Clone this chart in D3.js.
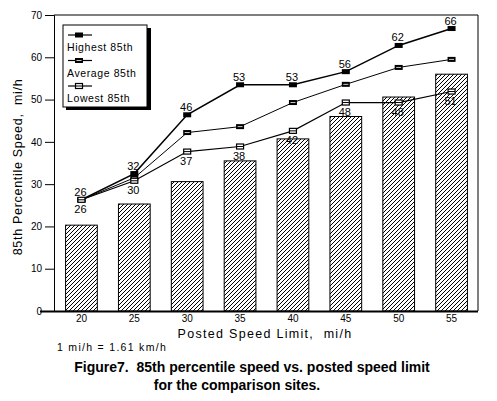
<!DOCTYPE html>
<html><head><meta charset="utf-8">
<script src="https://cdn.jsdelivr.net/npm/d3@7"></script>
<style>
body{margin:0;background:#fff;}
svg{display:block;}
text{font-family:"Liberation Sans",Arial,sans-serif;fill:#000;}
</style></head>
<body><svg id="c" width="497" height="401"></svg>
<script>
const categories = ["20","25","30","35","40","45","50","55"];
const posted = [20.3, 25.3, 30.6, 35.5, 40.7, 46, 50.6, 56];
const highest = [26.3, 32.5, 46.4, 53.5, 53.5, 56.6, 62.8, 66.8];
const average = [26.3, 31.5, 42.2, 43.6, 49.3, 53.6, 57.6, 59.5];
const lowest = [26.3, 30.8, 37.7, 38.9, 42.6, 49.3, 49.3, 51.9];
const highestLabels = ["26","32","46","53","53","56","62","66"];
const lowestLabels = ["26","30","37","38","42","48","48","51"];
const yTicks = [0,10,20,30,40,50,60,70];
const seriesNames = ["Highest 85th","Average 85th","Lowest 85th"];

const svg = d3.select("#c");
const x = d3.scaleBand().domain(categories).range([55,478]).paddingInner(0.4).paddingOuter(0.2);
const y = d3.scaleLinear().domain([0,70]).range([311,15]);
const cx = c => x(c) + x.bandwidth()/2;

// hatch pattern
const defs = svg.append("defs");
const pat = defs.append("pattern").attr("id","hatch").attr("patternUnits","userSpaceOnUse")
  .attr("width",4).attr("height",4);
pat.append("rect").attr("width",4).attr("height",4).attr("fill","#fff");
pat.append("path").attr("d","M-1,1 l2,-2 M0,4 l4,-4 M3,5 l2,-2").attr("stroke","#000").attr("stroke-width",1);

// frame
svg.append("line").attr("x1",54).attr("x2",478).attr("y1",y(70)).attr("y2",y(70)).attr("stroke","#000").attr("stroke-width",1.2);
svg.append("line").attr("x1",478).attr("x2",478).attr("y1",y(70)).attr("y2",y(0)).attr("stroke","#000").attr("stroke-width",1);

// bars
svg.append("g").selectAll("rect").data(categories).join("rect")
  .attr("x",d=>x(d)).attr("width",x.bandwidth())
  .attr("y",(d,i)=>y(posted[i])).attr("height",(d,i)=>y(0)-y(posted[i]))
  .attr("fill","url(#hatch)").attr("stroke","#000").attr("stroke-width",1);

// y axis
const ya = d3.axisLeft(y).tickValues(yTicks).tickSize(9).tickPadding(3);
const gy = svg.append("g").attr("transform","translate(54,0)").call(ya);
gy.select(".domain").attr("stroke","#000");
gy.selectAll("text").attr("font-size",10).attr("font-family","Liberation Sans, Arial, sans-serif");
// x axis
const xa = d3.axisBottom(x).tickSize(0).tickPadding(4);
const gx = svg.append("g").attr("transform","translate(0,311)").call(xa);
gx.select(".domain").attr("d","M40,0.5H478").attr("stroke","#000").attr("stroke-width",1.8);
gx.selectAll("text").attr("font-size",10).attr("font-family","Liberation Sans, Arial, sans-serif");

// lines
const line = vals => d3.line().x((d,i)=>cx(categories[i])).y(d=>y(d))(vals);
const seriesData = [highest, average, lowest];
const widths = [1.5,1,1.2];
seriesData.forEach((vals,k)=>{
  svg.append("path").attr("d",line(vals)).attr("fill","none").attr("stroke","#000").attr("stroke-width",widths[k]);
});
function marker(g, px, py, k){
  if(k===0){
    g.append("rect").attr("x",px-4).attr("y",py-2.5).attr("width",8).attr("height",5).attr("fill","#000");
  } else if(k===1){
    g.append("rect").attr("x",px-4).attr("y",py-2.5).attr("width",8).attr("height",5).attr("fill","#000");
    g.append("line").attr("x1",px-2.5).attr("x2",px+2.5).attr("y1",py).attr("y2",py).attr("stroke","#fff").attr("stroke-width",0.8);
  } else {
    g.append("rect").attr("x",px-3.5).attr("y",py-2.5).attr("width",7).attr("height",5).attr("fill","#fff").attr("stroke","#000").attr("stroke-width",1.2);
    g.append("line").attr("x1",px-3.5).attr("x2",px+3.5).attr("y1",py).attr("y2",py).attr("stroke","#000").attr("stroke-width",1);
  }
}
const mg = svg.append("g");
seriesData.forEach((vals,k)=>{
  vals.forEach((v,i)=>marker(mg, cx(categories[i]), y(v), k));
});

// data labels
svg.append("g").selectAll("text").data(highestLabels).join("text")
  .attr("x",(d,i)=>cx(categories[i])-1).attr("y",(d,i)=>y(highest[i])-4)
  .attr("text-anchor","middle").attr("font-size",11).text(d=>d);
svg.append("g").selectAll("text").data(lowestLabels).join("text")
  .attr("x",(d,i)=>cx(categories[i])-1).attr("y",(d,i)=>y(lowest[i])+13)
  .attr("text-anchor","middle").attr("font-size",11).text(d=>d);

// legend
const lg = svg.append("g");
lg.append("rect").attr("x",66).attr("y",28).attr("width",85).attr("height",82).attr("fill","#000");
lg.append("rect").attr("x",63).attr("y",25).attr("width",84).attr("height",82).attr("fill","#fff").attr("stroke","#000").attr("stroke-width",1);
seriesNames.forEach((n,k)=>{
  const ly = 35 + k*25.5;
  lg.append("line").attr("x1",68).attr("x2",92).attr("y1",ly).attr("y2",ly).attr("stroke","#000").attr("stroke-width",1.2);
  marker(lg, 79, ly, k);
  lg.append("text").attr("x",67).attr("y",ly+16).attr("font-size",10.5).attr("letter-spacing",0.6).text(n);
});

// axis titles
svg.append("text").attr("x",265).attr("y",338).attr("text-anchor","middle").attr("font-size",12.5).attr("letter-spacing",1.3)
  .style("white-space","pre").text("Posted Speed Limit,  mi/h");
svg.append("text").attr("transform","translate(22,167) rotate(-90)").attr("text-anchor","middle").attr("font-size",12.5).attr("letter-spacing",0.7)
  .style("white-space","pre").text("85th Percentile Speed,  mi/h");
svg.append("text").attr("x",57).attr("y",351).attr("font-size",10.5).attr("letter-spacing",1.3).text("1 mi/h = 1.61 km/h");

// caption
const cap = svg.append("g");
cap.append("text").attr("x",252).attr("y",372).attr("text-anchor","middle").attr("font-size",14)
  .style("font-family","'Liberation Sans Narrow','Arial Narrow',sans-serif").style("font-weight","bold").style("white-space","pre")
  .text("Figure7.  85th percentile speed vs. posted speed limit");
cap.append("text").attr("x",237).attr("y",390).attr("text-anchor","middle").attr("font-size",14)
  .style("font-family","'Liberation Sans Narrow','Arial Narrow',sans-serif").style("font-weight","bold")
  .text("for the comparison sites.");
</script></body></html>
